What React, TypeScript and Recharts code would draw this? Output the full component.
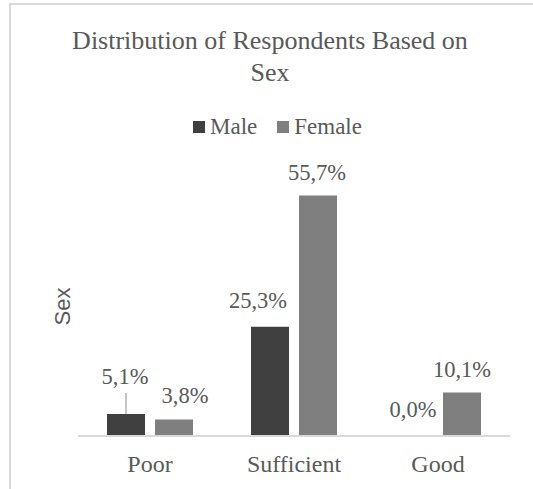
import React from 'react';
import { BarChart, Bar, XAxis, YAxis, LabelList, Legend, Rectangle } from 'recharts';

// Share of respondents (%) by assessment category and sex
const categories = ['Poor', 'Sufficient', 'Good'];
const maleValues = [5.1, 25.3, 0.0];
const femaleValues = [3.8, 55.7, 10.1];
const seriesNames = ['Male', 'Female'];
const seriesColors = ['#404040', '#7f7f7f'];

const chartTitle = ['Distribution of Respondents Based on', 'Sex'];
const axisTitle = 'Sex';

const data = categories.map((category, i) => ({
  category,
  male: maleValues[i],
  female: femaleValues[i],
}));

const FONT = '"Liberation Serif", "Times New Roman", serif';
const SANS = '"Liberation Sans", Arial, sans-serif';
const TEXT = '#595959';
const GRID = '#d9d9d9';

const W = 533;
const H = 489;

const fmt = (v: number) => v.toFixed(1).replace('.', ',') + '%';

// label placement tweaks per bar (rise of baseline above bar top, horizontal nudge, leader line)
type Placement = { rise: number; dx: number; leader?: boolean };
const malePlacement: Placement[] = [
  { rise: 30, dx: -1, leader: true },
  { rise: 19, dx: -12 },
  { rise: 18, dx: -1 },
];
const femalePlacement: Placement[] = [
  { rise: 17, dx: 11 },
  { rise: 16, dx: -1 },
  { rise: 15, dx: 0 },
];

const makeLabel = (placement: Placement[]) => (props: any) => {
  const { x, y, width, height, value, index } = props;
  const p = placement[index] || { rise: 17, dx: 0 };
  const cx = Number(x) + Number(width) / 2;
  // top edge of the bar (height may be negative depending on direction)
  const top = Math.min(Number(y), Number(y) + Number(height || 0));
  const baseline = top - p.rise;
  return (
    <g>
      {p.leader && (
        <line x1={cx} x2={cx} y1={baseline + 9} y2={top} stroke="#a6a6a6" strokeWidth={1.3} />
      )}
      <text
        x={cx + p.dx}
        y={baseline}
        textAnchor="middle"
        fill={TEXT}
        fontFamily={FONT}
        fontSize={22.5}
      >
        {fmt(Number(value))}
      </text>
    </g>
  );
};

// bars of value 0 keep a slot (so the label is placed) but draw nothing
const BarShape = (props: any) => {
  if (!props.value && props.value !== undefined && Number(props.value) === 0) return null;
  const v = Array.isArray(props.value) ? props.value[1] - props.value[0] : props.value;
  if (Number(v) === 0) return null;
  return <Rectangle {...props} />;
};

const zeroSlot = (value: any) => (Number(value) === 0 ? 1 : 0);

const LegendContent = () => (
  <div
    style={{
      display: 'flex',
      alignItems: 'center',
      fontFamily: FONT,
      fontSize: 23,
      lineHeight: '28px',
      color: TEXT,
      paddingLeft: 193,
    }}
  >
    {seriesNames.map((name, i) => (
      <div
        key={name}
        style={{ display: 'flex', alignItems: 'center', marginRight: i === 0 ? 20 : 0 }}
      >
        <span
          style={{
            display: 'inline-block',
            width: 12,
            height: 12,
            background: seriesColors[i],
            marginRight: 5,
          }}
        />
        <span>{name}</span>
      </div>
    ))}
  </div>
);

const AxisTitle = (props: any) => {
  const vb = props.viewBox || {};
  const cx = vb.x + 14;
  const cy = vb.y + vb.height / 2;
  return (
    <text
      x={cx}
      y={cy}
      transform={`rotate(-90, ${cx}, ${cy})`}
      textAnchor="middle"
      dominantBaseline="central"
      fill={TEXT}
      fontFamily={SANS}
      fontSize={22}
    >
      {axisTitle}
    </text>
  );
};

export default function App() {
  return (
    <div
      style={{
        position: 'absolute',
        left: 0,
        top: 0,
        width: W,
        height: H,
        overflow: 'hidden',
        background: '#ffffff',
      }}
    >
      <div
        style={{
          position: 'absolute',
          left: 9,
          top: 3,
          width: 620,
          height: 620,
          border: `2px solid ${GRID}`,
        }}
      />
      <div
        style={{
          position: 'absolute',
          left: 10,
          top: 25,
          width: 520,
          textAlign: 'center',
          fontFamily: FONT,
          fontSize: 26,
          lineHeight: '32px',
          color: TEXT,
        }}
      >
        {chartTitle.map((line) => (
          <div key={line}>{line}</div>
        ))}
      </div>
      <BarChart
        width={W}
        height={H}
        data={data}
        margin={{ top: 177, right: 23, bottom: 23, left: 48 }}
        barGap={10}
        barCategoryGap={29}
      >
        <XAxis
          dataKey="category"
          axisLine={{ stroke: GRID, strokeWidth: 2 }}
          tickLine={false}
          tickMargin={13}
          height={30}
          tick={{ fill: TEXT, fontFamily: FONT, fontSize: 24 }}
          interval={0}
        />
        <YAxis
          domain={[0, 60]}
          width={30}
          tick={false}
          axisLine={false}
          tickLine={false}
          label={<AxisTitle />}
        />
        <Legend
          verticalAlign="middle"
          align="center"
          layout="horizontal"
          content={<LegendContent />}
          wrapperStyle={{ top: 113, left: 0, width: W }}
        />
        <Bar
          dataKey="male"
          name={seriesNames[0]}
          fill={seriesColors[0]}
          minPointSize={zeroSlot}
          shape={<BarShape />}
          isAnimationActive={false}
        >
          <LabelList dataKey="male" content={makeLabel(malePlacement)} />
        </Bar>
        <Bar
          dataKey="female"
          name={seriesNames[1]}
          fill={seriesColors[1]}
          minPointSize={zeroSlot}
          shape={<BarShape />}
          isAnimationActive={false}
        >
          <LabelList dataKey="female" content={makeLabel(femalePlacement)} />
        </Bar>
      </BarChart>
    </div>
  );
}
